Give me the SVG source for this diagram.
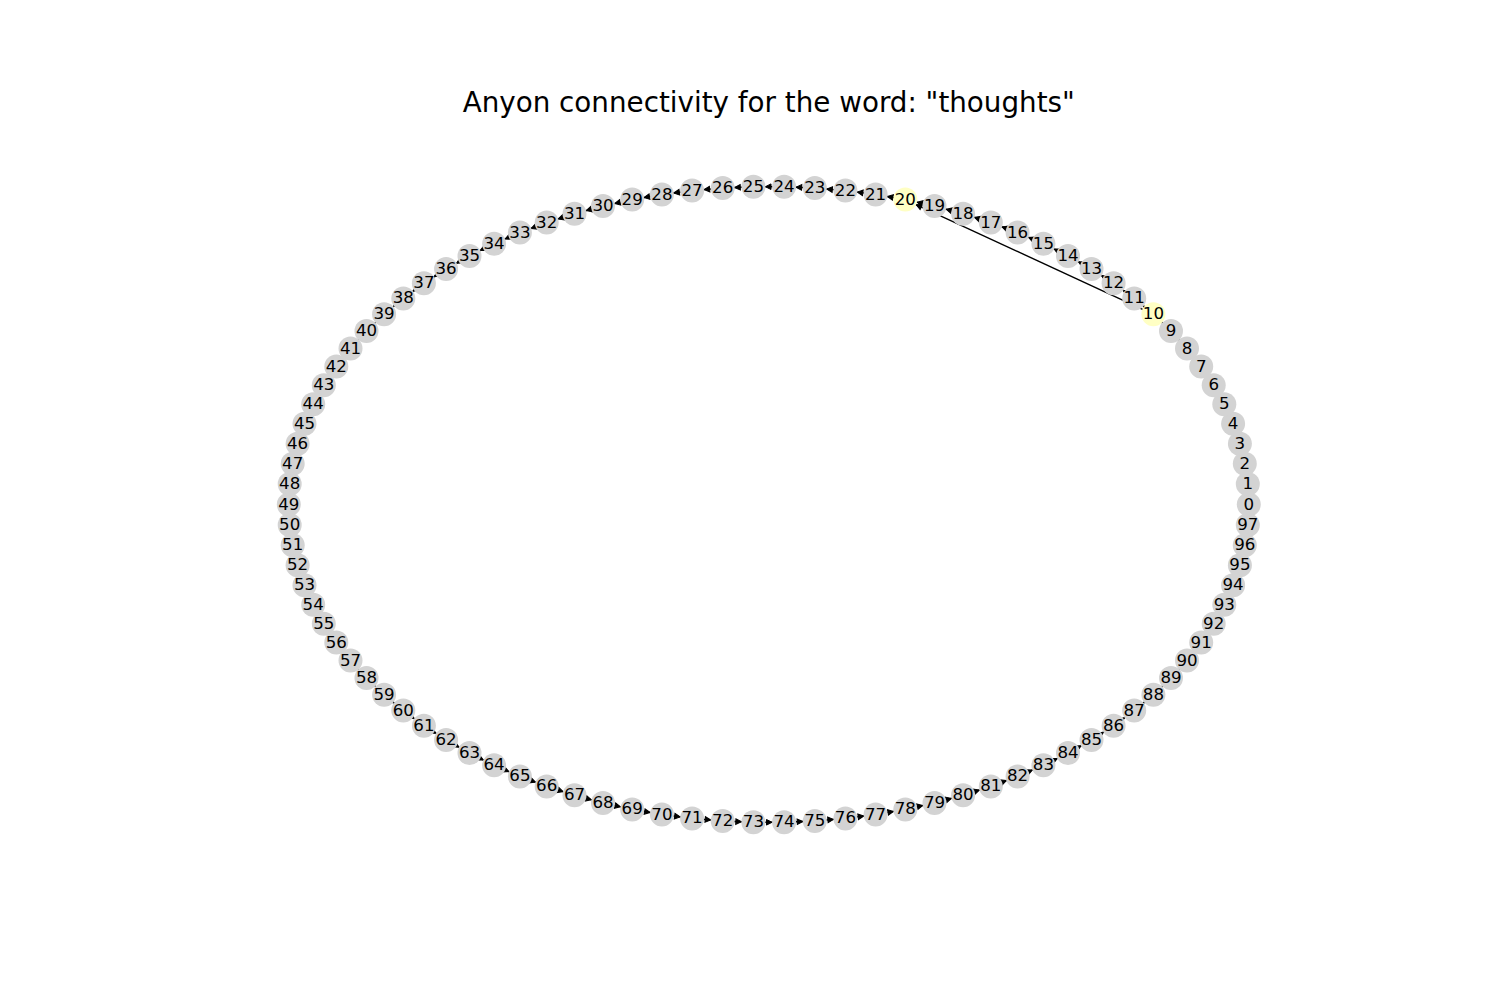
<svg xmlns="http://www.w3.org/2000/svg" width="1500" height="1000" viewBox="0 0 1500 1000">
<style>
.n circle{fill:#d3d3d3;stroke:none}
.n.hl circle{fill:#ffffc4}
.n text{font-family:"DejaVu Sans","Liberation Sans",sans-serif;font-size:16.67px;fill:#000;text-anchor:middle}
.e line{stroke:#000;stroke-width:1.4;marker-end:url(#ah)}
.title{font-family:"DejaVu Sans","Liberation Sans",sans-serif;font-size:27.78px;fill:#000;text-anchor:middle}
</style>
<defs>
<marker id="ah" markerUnits="userSpaceOnUse" markerWidth="20" markerHeight="20" refX="12" refY="0" orient="auto" overflow="visible">
<path d="M0,0 L-5.6,-2.8 L-5.6,2.8 Z" fill="#000" stroke="#000" stroke-width="1" stroke-linejoin="miter"/>
</marker>
</defs>
<rect width="1500" height="1000" fill="#fff"/>
<text class="title" x="768.75" y="111.7">Anyon connectivity for the word: "thoughts"</text>
<g id="edges" class="e">
<line x1="1248.8" y1="504.5" x2="1247.8" y2="484.1"/>
<line x1="1247.8" y1="484.1" x2="1244.8" y2="463.8"/>
<line x1="1244.8" y1="463.8" x2="1239.9" y2="443.7"/>
<line x1="1239.9" y1="443.7" x2="1233.1" y2="423.8"/>
<line x1="1233.1" y1="423.8" x2="1224.3" y2="404.3"/>
<line x1="1224.3" y1="404.3" x2="1213.7" y2="385.2"/>
<line x1="1213.7" y1="385.2" x2="1201.2" y2="366.5"/>
<line x1="1201.2" y1="366.5" x2="1187.0" y2="348.5"/>
<line x1="1187.0" y1="348.5" x2="1171.0" y2="331.0"/>
<line x1="1171.0" y1="331.0" x2="1153.4" y2="314.3"/>
<line x1="1153.4" y1="314.3" x2="1134.2" y2="298.4"/>
<line x1="1134.2" y1="298.4" x2="1113.6" y2="283.3"/>
<line x1="1113.6" y1="283.3" x2="1091.5" y2="269.1"/>
<line x1="1091.5" y1="269.1" x2="1068.0" y2="255.9"/>
<line x1="1068.0" y1="255.9" x2="1043.4" y2="243.7"/>
<line x1="1043.4" y1="243.7" x2="1017.6" y2="232.6"/>
<line x1="1017.6" y1="232.6" x2="990.8" y2="222.6"/>
<line x1="990.8" y1="222.6" x2="963.1" y2="213.7"/>
<line x1="963.1" y1="213.7" x2="934.5" y2="206.1"/>
<line x1="934.5" y1="206.1" x2="905.3" y2="199.6"/>
<line x1="905.3" y1="199.6" x2="875.6" y2="194.5"/>
<line x1="875.6" y1="194.5" x2="845.4" y2="190.6"/>
<line x1="845.4" y1="190.6" x2="814.8" y2="188.0"/>
<line x1="814.8" y1="188.0" x2="784.1" y2="186.7"/>
<line x1="784.1" y1="186.7" x2="753.4" y2="186.7"/>
<line x1="753.4" y1="186.7" x2="722.7" y2="188.0"/>
<line x1="722.7" y1="188.0" x2="692.1" y2="190.6"/>
<line x1="692.1" y1="190.6" x2="661.9" y2="194.5"/>
<line x1="661.9" y1="194.5" x2="632.2" y2="199.6"/>
<line x1="632.2" y1="199.6" x2="603.0" y2="206.1"/>
<line x1="603.0" y1="206.1" x2="574.5" y2="213.7"/>
<line x1="574.5" y1="213.7" x2="546.7" y2="222.6"/>
<line x1="546.7" y1="222.6" x2="519.9" y2="232.6"/>
<line x1="519.9" y1="232.6" x2="494.1" y2="243.7"/>
<line x1="494.1" y1="243.7" x2="469.5" y2="255.9"/>
<line x1="469.5" y1="255.9" x2="446.1" y2="269.1"/>
<line x1="446.1" y1="269.1" x2="423.9" y2="283.3"/>
<line x1="423.9" y1="283.3" x2="403.3" y2="298.4"/>
<line x1="403.3" y1="298.4" x2="384.1" y2="314.3"/>
<line x1="384.1" y1="314.3" x2="366.5" y2="331.0"/>
<line x1="366.5" y1="331.0" x2="350.5" y2="348.5"/>
<line x1="350.5" y1="348.5" x2="336.3" y2="366.5"/>
<line x1="336.3" y1="366.5" x2="323.8" y2="385.2"/>
<line x1="323.8" y1="385.2" x2="313.2" y2="404.3"/>
<line x1="313.2" y1="404.3" x2="304.5" y2="423.8"/>
<line x1="304.5" y1="423.8" x2="297.6" y2="443.7"/>
<line x1="297.6" y1="443.7" x2="292.7" y2="463.8"/>
<line x1="292.7" y1="463.8" x2="289.7" y2="484.1"/>
<line x1="289.7" y1="484.1" x2="288.8" y2="504.5"/>
<line x1="288.8" y1="504.5" x2="289.7" y2="524.9"/>
<line x1="289.7" y1="524.9" x2="292.7" y2="545.2"/>
<line x1="292.7" y1="545.2" x2="297.6" y2="565.3"/>
<line x1="297.6" y1="565.3" x2="304.5" y2="585.2"/>
<line x1="304.5" y1="585.2" x2="313.2" y2="604.7"/>
<line x1="313.2" y1="604.7" x2="323.8" y2="623.8"/>
<line x1="323.8" y1="623.8" x2="336.3" y2="642.5"/>
<line x1="336.3" y1="642.5" x2="350.5" y2="660.6"/>
<line x1="350.5" y1="660.6" x2="366.5" y2="678.0"/>
<line x1="366.5" y1="678.0" x2="384.1" y2="694.7"/>
<line x1="384.1" y1="694.7" x2="403.3" y2="710.6"/>
<line x1="403.3" y1="710.6" x2="423.9" y2="725.7"/>
<line x1="423.9" y1="725.7" x2="446.1" y2="739.9"/>
<line x1="446.1" y1="739.9" x2="469.5" y2="753.1"/>
<line x1="469.5" y1="753.1" x2="494.1" y2="765.3"/>
<line x1="494.1" y1="765.3" x2="519.9" y2="776.4"/>
<line x1="519.9" y1="776.4" x2="546.7" y2="786.4"/>
<line x1="546.7" y1="786.4" x2="574.5" y2="795.3"/>
<line x1="574.5" y1="795.3" x2="603.0" y2="802.9"/>
<line x1="603.0" y1="802.9" x2="632.2" y2="809.4"/>
<line x1="632.2" y1="809.4" x2="661.9" y2="814.5"/>
<line x1="661.9" y1="814.5" x2="692.1" y2="818.4"/>
<line x1="692.1" y1="818.4" x2="722.7" y2="821.0"/>
<line x1="722.7" y1="821.0" x2="753.4" y2="822.3"/>
<line x1="753.4" y1="822.3" x2="784.1" y2="822.3"/>
<line x1="784.1" y1="822.3" x2="814.8" y2="821.0"/>
<line x1="814.8" y1="821.0" x2="845.4" y2="818.4"/>
<line x1="845.4" y1="818.4" x2="875.6" y2="814.5"/>
<line x1="875.6" y1="814.5" x2="905.3" y2="809.4"/>
<line x1="905.3" y1="809.4" x2="934.5" y2="802.9"/>
<line x1="934.5" y1="802.9" x2="963.1" y2="795.3"/>
<line x1="963.1" y1="795.3" x2="990.8" y2="786.4"/>
<line x1="990.8" y1="786.4" x2="1017.6" y2="776.4"/>
<line x1="1017.6" y1="776.4" x2="1043.4" y2="765.3"/>
<line x1="1043.4" y1="765.3" x2="1068.0" y2="753.1"/>
<line x1="1068.0" y1="753.1" x2="1091.5" y2="739.9"/>
<line x1="1091.5" y1="739.9" x2="1113.6" y2="725.7"/>
<line x1="1113.6" y1="725.7" x2="1134.2" y2="710.6"/>
<line x1="1134.2" y1="710.6" x2="1153.4" y2="694.7"/>
<line x1="1153.4" y1="694.7" x2="1171.0" y2="678.0"/>
<line x1="1171.0" y1="678.0" x2="1187.0" y2="660.6"/>
<line x1="1187.0" y1="660.6" x2="1201.2" y2="642.5"/>
<line x1="1201.2" y1="642.5" x2="1213.7" y2="623.8"/>
<line x1="1213.7" y1="623.8" x2="1224.3" y2="604.7"/>
<line x1="1224.3" y1="604.7" x2="1233.1" y2="585.2"/>
<line x1="1233.1" y1="585.2" x2="1239.9" y2="565.3"/>
<line x1="1239.9" y1="565.3" x2="1244.8" y2="545.2"/>
<line x1="1244.8" y1="545.2" x2="1247.8" y2="524.9"/>
<line x1="1153.4" y1="314.3" x2="905.3" y2="199.6"/>
</g>
<g id="nodes">
<g id="node-0" class="n"><circle cx="1248.8" cy="504.5" r="12"/><text x="1248.8" y="509.5">0</text></g>
<g id="node-1" class="n"><circle cx="1247.8" cy="484.1" r="12"/><text x="1247.8" y="489.1">1</text></g>
<g id="node-2" class="n"><circle cx="1244.8" cy="463.8" r="12"/><text x="1244.8" y="468.8">2</text></g>
<g id="node-3" class="n"><circle cx="1239.9" cy="443.7" r="12"/><text x="1239.9" y="448.7">3</text></g>
<g id="node-4" class="n"><circle cx="1233.1" cy="423.8" r="12"/><text x="1233.1" y="428.8">4</text></g>
<g id="node-5" class="n"><circle cx="1224.3" cy="404.3" r="12"/><text x="1224.3" y="409.3">5</text></g>
<g id="node-6" class="n"><circle cx="1213.7" cy="385.2" r="12"/><text x="1213.7" y="390.2">6</text></g>
<g id="node-7" class="n"><circle cx="1201.2" cy="366.5" r="12"/><text x="1201.2" y="371.5">7</text></g>
<g id="node-8" class="n"><circle cx="1187.0" cy="348.5" r="12"/><text x="1187.0" y="353.5">8</text></g>
<g id="node-9" class="n"><circle cx="1171.0" cy="331.0" r="12"/><text x="1171.0" y="336.0">9</text></g>
<g id="node-10" class="n hl"><circle cx="1153.4" cy="314.3" r="12"/><text x="1153.4" y="319.3">10</text></g>
<g id="node-11" class="n"><circle cx="1134.2" cy="298.4" r="12"/><text x="1134.2" y="303.4">11</text></g>
<g id="node-12" class="n"><circle cx="1113.6" cy="283.3" r="12"/><text x="1113.6" y="288.3">12</text></g>
<g id="node-13" class="n"><circle cx="1091.5" cy="269.1" r="12"/><text x="1091.5" y="274.1">13</text></g>
<g id="node-14" class="n"><circle cx="1068.0" cy="255.9" r="12"/><text x="1068.0" y="260.9">14</text></g>
<g id="node-15" class="n"><circle cx="1043.4" cy="243.7" r="12"/><text x="1043.4" y="248.7">15</text></g>
<g id="node-16" class="n"><circle cx="1017.6" cy="232.6" r="12"/><text x="1017.6" y="237.6">16</text></g>
<g id="node-17" class="n"><circle cx="990.8" cy="222.6" r="12"/><text x="990.8" y="227.6">17</text></g>
<g id="node-18" class="n"><circle cx="963.1" cy="213.7" r="12"/><text x="963.1" y="218.7">18</text></g>
<g id="node-19" class="n"><circle cx="934.5" cy="206.1" r="12"/><text x="934.5" y="211.1">19</text></g>
<g id="node-20" class="n hl"><circle cx="905.3" cy="199.6" r="12"/><text x="905.3" y="204.6">20</text></g>
<g id="node-21" class="n"><circle cx="875.6" cy="194.5" r="12"/><text x="875.6" y="199.5">21</text></g>
<g id="node-22" class="n"><circle cx="845.4" cy="190.6" r="12"/><text x="845.4" y="195.6">22</text></g>
<g id="node-23" class="n"><circle cx="814.8" cy="188.0" r="12"/><text x="814.8" y="193.0">23</text></g>
<g id="node-24" class="n"><circle cx="784.1" cy="186.7" r="12"/><text x="784.1" y="191.7">24</text></g>
<g id="node-25" class="n"><circle cx="753.4" cy="186.7" r="12"/><text x="753.4" y="191.7">25</text></g>
<g id="node-26" class="n"><circle cx="722.7" cy="188.0" r="12"/><text x="722.7" y="193.0">26</text></g>
<g id="node-27" class="n"><circle cx="692.1" cy="190.6" r="12"/><text x="692.1" y="195.6">27</text></g>
<g id="node-28" class="n"><circle cx="661.9" cy="194.5" r="12"/><text x="661.9" y="199.5">28</text></g>
<g id="node-29" class="n"><circle cx="632.2" cy="199.6" r="12"/><text x="632.2" y="204.6">29</text></g>
<g id="node-30" class="n"><circle cx="603.0" cy="206.1" r="12"/><text x="603.0" y="211.1">30</text></g>
<g id="node-31" class="n"><circle cx="574.5" cy="213.7" r="12"/><text x="574.5" y="218.7">31</text></g>
<g id="node-32" class="n"><circle cx="546.7" cy="222.6" r="12"/><text x="546.7" y="227.6">32</text></g>
<g id="node-33" class="n"><circle cx="519.9" cy="232.6" r="12"/><text x="519.9" y="237.6">33</text></g>
<g id="node-34" class="n"><circle cx="494.1" cy="243.7" r="12"/><text x="494.1" y="248.7">34</text></g>
<g id="node-35" class="n"><circle cx="469.5" cy="255.9" r="12"/><text x="469.5" y="260.9">35</text></g>
<g id="node-36" class="n"><circle cx="446.1" cy="269.1" r="12"/><text x="446.1" y="274.1">36</text></g>
<g id="node-37" class="n"><circle cx="423.9" cy="283.3" r="12"/><text x="423.9" y="288.3">37</text></g>
<g id="node-38" class="n"><circle cx="403.3" cy="298.4" r="12"/><text x="403.3" y="303.4">38</text></g>
<g id="node-39" class="n"><circle cx="384.1" cy="314.3" r="12"/><text x="384.1" y="319.3">39</text></g>
<g id="node-40" class="n"><circle cx="366.5" cy="331.0" r="12"/><text x="366.5" y="336.0">40</text></g>
<g id="node-41" class="n"><circle cx="350.5" cy="348.5" r="12"/><text x="350.5" y="353.5">41</text></g>
<g id="node-42" class="n"><circle cx="336.3" cy="366.5" r="12"/><text x="336.3" y="371.5">42</text></g>
<g id="node-43" class="n"><circle cx="323.8" cy="385.2" r="12"/><text x="323.8" y="390.2">43</text></g>
<g id="node-44" class="n"><circle cx="313.2" cy="404.3" r="12"/><text x="313.2" y="409.3">44</text></g>
<g id="node-45" class="n"><circle cx="304.5" cy="423.8" r="12"/><text x="304.5" y="428.8">45</text></g>
<g id="node-46" class="n"><circle cx="297.6" cy="443.7" r="12"/><text x="297.6" y="448.7">46</text></g>
<g id="node-47" class="n"><circle cx="292.7" cy="463.8" r="12"/><text x="292.7" y="468.8">47</text></g>
<g id="node-48" class="n"><circle cx="289.7" cy="484.1" r="12"/><text x="289.7" y="489.1">48</text></g>
<g id="node-49" class="n"><circle cx="288.8" cy="504.5" r="12"/><text x="288.8" y="509.5">49</text></g>
<g id="node-50" class="n"><circle cx="289.7" cy="524.9" r="12"/><text x="289.7" y="529.9">50</text></g>
<g id="node-51" class="n"><circle cx="292.7" cy="545.2" r="12"/><text x="292.7" y="550.2">51</text></g>
<g id="node-52" class="n"><circle cx="297.6" cy="565.3" r="12"/><text x="297.6" y="570.3">52</text></g>
<g id="node-53" class="n"><circle cx="304.5" cy="585.2" r="12"/><text x="304.5" y="590.2">53</text></g>
<g id="node-54" class="n"><circle cx="313.2" cy="604.7" r="12"/><text x="313.2" y="609.7">54</text></g>
<g id="node-55" class="n"><circle cx="323.8" cy="623.8" r="12"/><text x="323.8" y="628.8">55</text></g>
<g id="node-56" class="n"><circle cx="336.3" cy="642.5" r="12"/><text x="336.3" y="647.5">56</text></g>
<g id="node-57" class="n"><circle cx="350.5" cy="660.6" r="12"/><text x="350.5" y="665.6">57</text></g>
<g id="node-58" class="n"><circle cx="366.5" cy="678.0" r="12"/><text x="366.5" y="683.0">58</text></g>
<g id="node-59" class="n"><circle cx="384.1" cy="694.7" r="12"/><text x="384.1" y="699.7">59</text></g>
<g id="node-60" class="n"><circle cx="403.3" cy="710.6" r="12"/><text x="403.3" y="715.6">60</text></g>
<g id="node-61" class="n"><circle cx="423.9" cy="725.7" r="12"/><text x="423.9" y="730.7">61</text></g>
<g id="node-62" class="n"><circle cx="446.1" cy="739.9" r="12"/><text x="446.1" y="744.9">62</text></g>
<g id="node-63" class="n"><circle cx="469.5" cy="753.1" r="12"/><text x="469.5" y="758.1">63</text></g>
<g id="node-64" class="n"><circle cx="494.1" cy="765.3" r="12"/><text x="494.1" y="770.3">64</text></g>
<g id="node-65" class="n"><circle cx="519.9" cy="776.4" r="12"/><text x="519.9" y="781.4">65</text></g>
<g id="node-66" class="n"><circle cx="546.7" cy="786.4" r="12"/><text x="546.7" y="791.4">66</text></g>
<g id="node-67" class="n"><circle cx="574.5" cy="795.3" r="12"/><text x="574.5" y="800.3">67</text></g>
<g id="node-68" class="n"><circle cx="603.0" cy="802.9" r="12"/><text x="603.0" y="807.9">68</text></g>
<g id="node-69" class="n"><circle cx="632.2" cy="809.4" r="12"/><text x="632.2" y="814.4">69</text></g>
<g id="node-70" class="n"><circle cx="661.9" cy="814.5" r="12"/><text x="661.9" y="819.5">70</text></g>
<g id="node-71" class="n"><circle cx="692.1" cy="818.4" r="12"/><text x="692.1" y="823.4">71</text></g>
<g id="node-72" class="n"><circle cx="722.7" cy="821.0" r="12"/><text x="722.7" y="826.0">72</text></g>
<g id="node-73" class="n"><circle cx="753.4" cy="822.3" r="12"/><text x="753.4" y="827.3">73</text></g>
<g id="node-74" class="n"><circle cx="784.1" cy="822.3" r="12"/><text x="784.1" y="827.3">74</text></g>
<g id="node-75" class="n"><circle cx="814.8" cy="821.0" r="12"/><text x="814.8" y="826.0">75</text></g>
<g id="node-76" class="n"><circle cx="845.4" cy="818.4" r="12"/><text x="845.4" y="823.4">76</text></g>
<g id="node-77" class="n"><circle cx="875.6" cy="814.5" r="12"/><text x="875.6" y="819.5">77</text></g>
<g id="node-78" class="n"><circle cx="905.3" cy="809.4" r="12"/><text x="905.3" y="814.4">78</text></g>
<g id="node-79" class="n"><circle cx="934.5" cy="802.9" r="12"/><text x="934.5" y="807.9">79</text></g>
<g id="node-80" class="n"><circle cx="963.1" cy="795.3" r="12"/><text x="963.1" y="800.3">80</text></g>
<g id="node-81" class="n"><circle cx="990.8" cy="786.4" r="12"/><text x="990.8" y="791.4">81</text></g>
<g id="node-82" class="n"><circle cx="1017.6" cy="776.4" r="12"/><text x="1017.6" y="781.4">82</text></g>
<g id="node-83" class="n"><circle cx="1043.4" cy="765.3" r="12"/><text x="1043.4" y="770.3">83</text></g>
<g id="node-84" class="n"><circle cx="1068.0" cy="753.1" r="12"/><text x="1068.0" y="758.1">84</text></g>
<g id="node-85" class="n"><circle cx="1091.5" cy="739.9" r="12"/><text x="1091.5" y="744.9">85</text></g>
<g id="node-86" class="n"><circle cx="1113.6" cy="725.7" r="12"/><text x="1113.6" y="730.7">86</text></g>
<g id="node-87" class="n"><circle cx="1134.2" cy="710.6" r="12"/><text x="1134.2" y="715.6">87</text></g>
<g id="node-88" class="n"><circle cx="1153.4" cy="694.7" r="12"/><text x="1153.4" y="699.7">88</text></g>
<g id="node-89" class="n"><circle cx="1171.0" cy="678.0" r="12"/><text x="1171.0" y="683.0">89</text></g>
<g id="node-90" class="n"><circle cx="1187.0" cy="660.6" r="12"/><text x="1187.0" y="665.6">90</text></g>
<g id="node-91" class="n"><circle cx="1201.2" cy="642.5" r="12"/><text x="1201.2" y="647.5">91</text></g>
<g id="node-92" class="n"><circle cx="1213.7" cy="623.8" r="12"/><text x="1213.7" y="628.8">92</text></g>
<g id="node-93" class="n"><circle cx="1224.3" cy="604.7" r="12"/><text x="1224.3" y="609.7">93</text></g>
<g id="node-94" class="n"><circle cx="1233.1" cy="585.2" r="12"/><text x="1233.1" y="590.2">94</text></g>
<g id="node-95" class="n"><circle cx="1239.9" cy="565.3" r="12"/><text x="1239.9" y="570.3">95</text></g>
<g id="node-96" class="n"><circle cx="1244.8" cy="545.2" r="12"/><text x="1244.8" y="550.2">96</text></g>
<g id="node-97" class="n"><circle cx="1247.8" cy="524.9" r="12"/><text x="1247.8" y="529.9">97</text></g>
</g>
</svg>
